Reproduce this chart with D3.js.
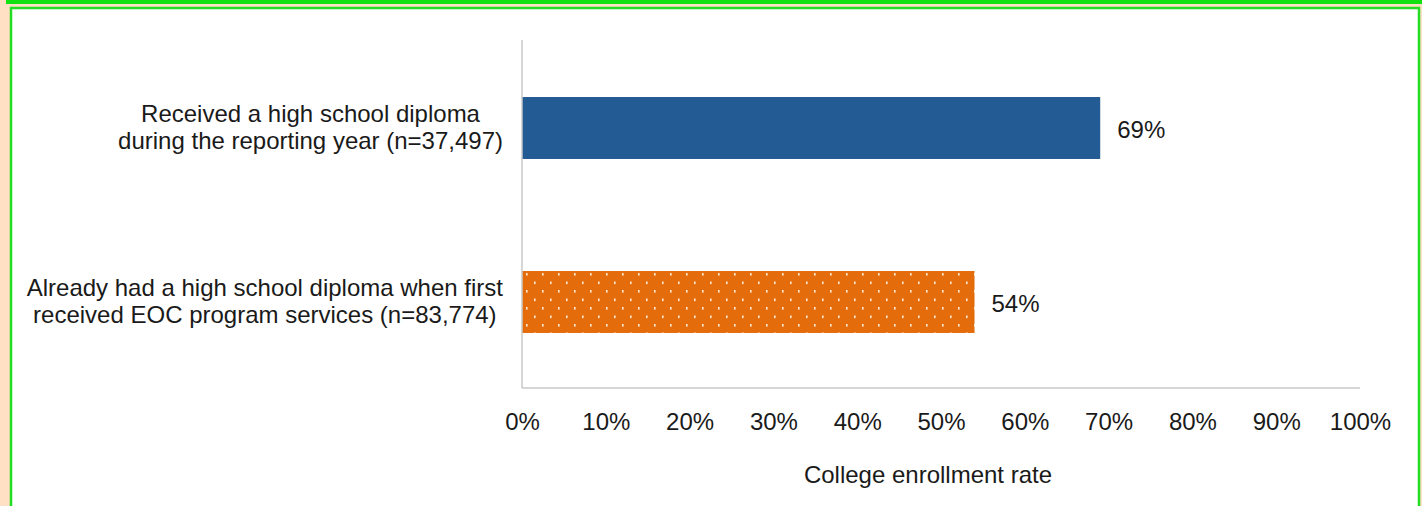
<!DOCTYPE html>
<html><head><meta charset="utf-8">
<script src="https://cdn.jsdelivr.net/npm/d3@7"></script>
<style>body{margin:0;background:#ffe0c4;}svg{display:block;font-family:"Liberation Sans",Arial,sans-serif;}</style>
</head><body>
<script>
const categories = [
  ["Received a high school diploma", "during the reporting year (n=37,497)"],
  ["Already had a high school diploma when first", "received EOC program services (n=83,774)"]
];
const values = [69, 54];
const valueLabels = ["69%", "54%"];
const tickValues = [0,10,20,30,40,50,60,70,80,90,100];
const axisTitle = "College enrollment rate";

const W = 1422, H = 506, FS = 24;
const svg = d3.select("body").append("svg").attr("width", W).attr("height", H);
svg.append("rect").attr("width", W).attr("height", H).attr("fill", "#ffe0c4");
svg.append("rect").attr("x", 6).attr("y", 0).attr("width", W-6).attr("height", 4).attr("fill", "#11e011");
svg.append("rect").attr("x", 11).attr("y", 8).attr("width", 1408).attr("height", 510)
  .attr("fill", "#fff").attr("stroke", "#22dd22").attr("stroke-width", 2.5);

const defs = svg.append("defs");
const pat = defs.append("pattern").attr("id", "dots").attr("patternUnits", "userSpaceOnUse")
  .attr("width", 16).attr("height", 17).attr("x", 526).attr("y", 273);
pat.append("rect").attr("width", 16).attr("height", 17).attr("fill", "#e46c0a");
pat.append("rect").attr("x", 0).attr("y", 0).attr("width", 1.6).attr("height", 2.6).attr("fill", "#fde8d4");
pat.append("rect").attr("x", 8).attr("y", 8.5).attr("width", 1.6).attr("height", 2.6).attr("fill", "#fde8d4");

const x = d3.scaleLinear().domain([0, 100]).range([522, 1360]);
const y = d3.scaleBand().domain(d3.range(categories.length)).range([41, 389]).paddingInner(0.644).paddingOuter(0.322);
const fills = ["#235b95", "url(#dots)"];

svg.selectAll("rect.bar").data(values).join("rect").attr("class", "bar")
  .attr("x", x(0)).attr("y", (d,i) => y(i)).attr("width", d => x(d) - x(0))
  .attr("height", y.bandwidth()).attr("fill", (d,i) => fills[i]);

// axes lines
svg.append("line").attr("x1", x(0)).attr("x2", x(0)).attr("y1", 40).attr("y2", 388).attr("stroke", "#c8c8c8").attr("stroke-width", 1.5);
svg.append("line").attr("x1", x(0)).attr("x2", x(100)).attr("y1", 388).attr("y2", 388).attr("stroke", "#c8c8c8").attr("stroke-width", 1.5);

// x tick labels
const xa = d3.axisBottom(x).tickValues(tickValues).tickFormat(d => d + "%").tickSize(0).tickPadding(0);
const gx = svg.append("g").attr("transform", "translate(0,430)").call(xa);
gx.select(".domain").remove();
gx.selectAll("text").attr("font-size", FS).attr("fill", "#1a1a1a").attr("font-family", "'Liberation Sans',Arial,sans-serif").attr("dy", 0);

// category labels: block centered, right edge of longest line at 503
categories.forEach((lines, i) => {
  const cy = y(i) + y.bandwidth()/2;
  const t = svg.append("text").attr("text-anchor", "middle")
    .attr("font-size", FS).attr("fill", "#1a1a1a");
  const spans = lines.map((l, j) => t.append("tspan").attr("y", cy - 6 + j * 27).text(l));
  const maxW = d3.max(spans, s => s.node().getComputedTextLength());
  const cx = 503 - maxW / 2;
  spans.forEach(s => s.attr("x", cx));
});

// value labels
svg.selectAll("text.val").data(values).join("text").attr("class", "val")
  .attr("x", d => x(d) + 17).attr("y", (d,i) => y(i) + y.bandwidth()/2 + 10)
  .attr("font-size", FS).attr("fill", "#1a1a1a").text((d,i) => valueLabels[i]);

svg.append("text").attr("x", 928).attr("y", 483).attr("text-anchor", "middle")
  .attr("font-size", FS).attr("fill", "#1a1a1a").text(axisTitle);
</script>
</body></html>
